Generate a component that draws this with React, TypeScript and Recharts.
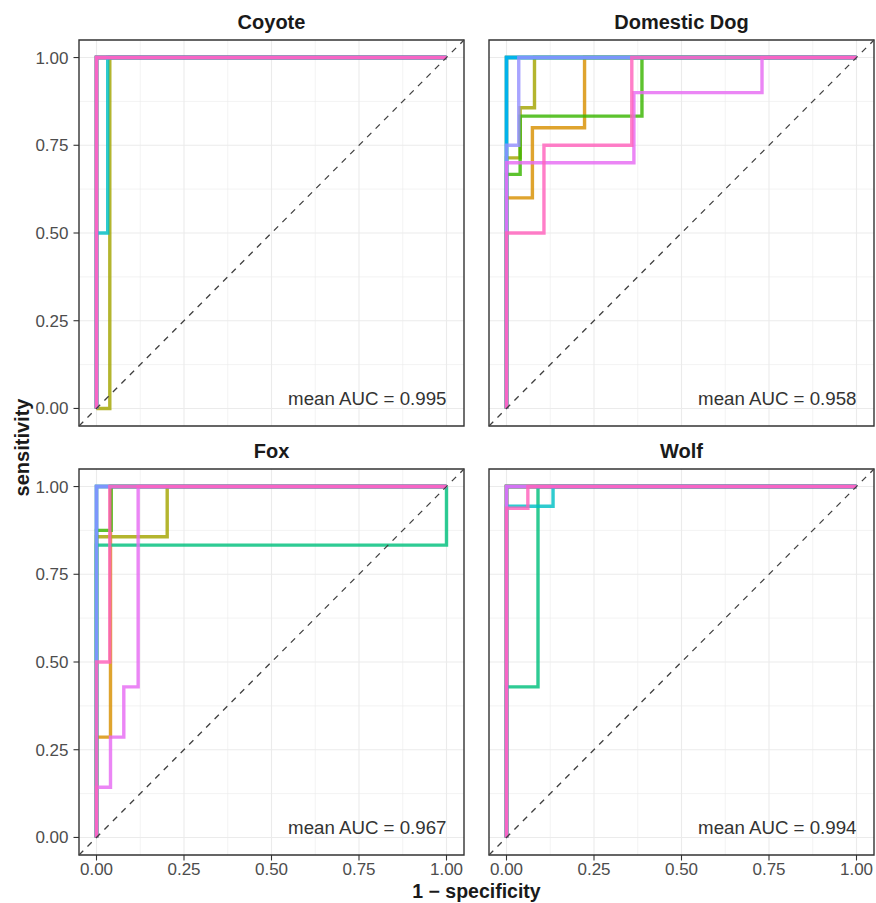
import React from 'react';
import { LineChart, Line, XAxis, YAxis, CartesianGrid, ReferenceLine, ReferenceArea } from 'recharts';

type Pt = { x: number; y: number };

// ggplot hue palette, one colour per cross-validation fold
const FOLD_COLORS = ['#F8766D', '#D89000', '#A3A500', '#39B600', '#00BF7D', '#00BFC4', '#00B0F6', '#9590FF', '#E76BF3', '#FF62BC'];
const MAJOR_TICKS = [0, 0.25, 0.5, 0.75, 1];
const MINOR_TICKS = [0.125, 0.375, 0.625, 0.875];
const PANEL_TITLES = ['Coyote', 'Domestic Dog', 'Fox', 'Wolf'];
const MEAN_AUC = [0.995, 0.958, 0.967, 0.994];

const PERFECT: Pt[] = [{ x: 0, y: 0 }, { x: 0, y: 1 }, { x: 1, y: 1 }];

// ROC step curves (1 - specificity, sensitivity) for the 10 folds of each class
const coyoteCurves: Pt[][] = [
  PERFECT,
  PERFECT,
  [{ x: 0, y: 0 }, { x: 0.038, y: 0 }, { x: 0.038, y: 1 }, { x: 1, y: 1 }],
  PERFECT,
  PERFECT,
  [{ x: 0, y: 0 }, { x: 0, y: 0.5 }, { x: 0.032, y: 0.5 }, { x: 0.032, y: 1 }, { x: 1, y: 1 }],
  PERFECT,
  PERFECT,
  PERFECT,
  PERFECT,
];

const dogCurves: Pt[][] = [
  PERFECT,
  [{ x: 0, y: 0 }, { x: 0, y: 0.6 }, { x: 0.074, y: 0.6 }, { x: 0.074, y: 0.8 }, { x: 0.223, y: 0.8 }, { x: 0.223, y: 1 }, { x: 1, y: 1 }],
  [{ x: 0, y: 0 }, { x: 0, y: 0.714 }, { x: 0.039, y: 0.714 }, { x: 0.039, y: 0.857 }, { x: 0.08, y: 0.857 }, { x: 0.08, y: 1 }, { x: 1, y: 1 }],
  [{ x: 0, y: 0 }, { x: 0, y: 0.667 }, { x: 0.039, y: 0.667 }, { x: 0.039, y: 0.833 }, { x: 0.387, y: 0.833 }, { x: 0.387, y: 1 }, { x: 1, y: 1 }],
  PERFECT,
  PERFECT,
  PERFECT,
  [{ x: 0, y: 0 }, { x: 0, y: 0.75 }, { x: 0.035, y: 0.75 }, { x: 0.035, y: 1 }, { x: 1, y: 1 }],
  [{ x: 0, y: 0 }, { x: 0, y: 0.7 }, { x: 0.364, y: 0.7 }, { x: 0.364, y: 0.9 }, { x: 0.73, y: 0.9 }, { x: 0.73, y: 1 }, { x: 1, y: 1 }],
  [{ x: 0, y: 0 }, { x: 0, y: 0.5 }, { x: 0.107, y: 0.5 }, { x: 0.107, y: 0.75 }, { x: 0.358, y: 0.75 }, { x: 0.358, y: 1 }, { x: 1, y: 1 }],
];

const foxCurves: Pt[][] = [
  PERFECT,
  [{ x: 0, y: 0 }, { x: 0, y: 0.286 }, { x: 0.04, y: 0.286 }, { x: 0.04, y: 1 }, { x: 1, y: 1 }],
  [{ x: 0, y: 0 }, { x: 0, y: 0.857 }, { x: 0.202, y: 0.857 }, { x: 0.202, y: 1 }, { x: 1, y: 1 }],
  [{ x: 0, y: 0 }, { x: 0, y: 0.875 }, { x: 0.042, y: 0.875 }, { x: 0.042, y: 1 }, { x: 1, y: 1 }],
  [{ x: 0, y: 0 }, { x: 0, y: 0.833 }, { x: 1, y: 0.833 }, { x: 1, y: 1 }],
  PERFECT,
  PERFECT,
  PERFECT,
  [{ x: 0, y: 0 }, { x: 0, y: 0.143 }, { x: 0.04, y: 0.143 }, { x: 0.04, y: 0.286 }, { x: 0.078, y: 0.286 }, { x: 0.078, y: 0.429 }, { x: 0.119, y: 0.429 }, { x: 0.119, y: 1 }, { x: 1, y: 1 }],
  [{ x: 0, y: 0 }, { x: 0, y: 0.5 }, { x: 0.038, y: 0.5 }, { x: 0.038, y: 1 }, { x: 1, y: 1 }],
];

const wolfCurves: Pt[][] = [
  PERFECT,
  PERFECT,
  PERFECT,
  PERFECT,
  [{ x: 0, y: 0 }, { x: 0, y: 0.429 }, { x: 0.09, y: 0.429 }, { x: 0.09, y: 1 }, { x: 1, y: 1 }],
  [{ x: 0, y: 0 }, { x: 0, y: 0.944 }, { x: 0.133, y: 0.944 }, { x: 0.133, y: 1 }, { x: 1, y: 1 }],
  PERFECT,
  PERFECT,
  PERFECT,
  [{ x: 0, y: 0 }, { x: 0, y: 0.938 }, { x: 0.061, y: 0.938 }, { x: 0.061, y: 1 }, { x: 1, y: 1 }],
];

const ALL_CURVES = [coyoteCurves, dogCurves, foxCurves, wolfCurves];

const FONT = "'Liberation Sans', Arial, Helvetica, sans-serif";
const DOMAIN: [number, number] = [-0.05, 1.05];
const PLOT_W = 385;
const PLOT_H = 386;
const COL_LEFT = [79, 489];
const ROW_TOP = [40, 469];

const fmt = (v: number) => v.toFixed(2);

function Panel({ idx }: { idx: number }) {
  const col = idx % 2;
  const row = Math.floor(idx / 2);
  const showY = col === 0;
  const showX = row === 1;
  const plotLeft = COL_LEFT[col];
  const plotTop = ROW_TOP[row];
  const chartLeft = showY ? 0 : 470;
  const chartTop = row === 0 ? 0 : 430;
  const yAxisW = showY ? 79 : 0;
  const mLeft = plotLeft - chartLeft - yAxisW;
  const mTop = plotTop - chartTop;
  const xAxisH = showX ? 26 : 0;
  const width = mLeft + yAxisW + PLOT_W + 4;
  const height = mTop + PLOT_H + xAxisH + 4;
  const curves = ALL_CURVES[idx];
  return (
    <div style={{ position: 'absolute', left: chartLeft, top: chartTop }}>
      <LineChart width={width} height={height} margin={{ top: mTop, left: mLeft, right: 4, bottom: 4 }}>
        <CartesianGrid stroke="#EBEBEB" strokeWidth={0.6} verticalValues={MINOR_TICKS} horizontalValues={MINOR_TICKS} />
        <CartesianGrid stroke="#EBEBEB" strokeWidth={1.1} verticalValues={MAJOR_TICKS} horizontalValues={MAJOR_TICKS} />
        <XAxis
          dataKey="x"
          type="number"
          domain={DOMAIN}
          ticks={MAJOR_TICKS}
          tickFormatter={fmt}
          allowDataOverflow
          hide={!showX}
          height={xAxisH}
          axisLine={false}
          tickLine={{ stroke: '#333333', strokeWidth: 1.1 }}
          tickSize={5.5}
          tickMargin={2.5}
          tick={{ fill: '#4D4D4D', fontSize: 17, fontFamily: FONT }}
        />
        <YAxis
          dataKey="y"
          type="number"
          domain={DOMAIN}
          ticks={MAJOR_TICKS}
          tickFormatter={fmt}
          allowDataOverflow
          hide={!showY}
          width={yAxisW}
          axisLine={false}
          tickLine={{ stroke: '#333333', strokeWidth: 1.1 }}
          tickSize={5.5}
          tickMargin={5}
          tick={{ fill: '#4D4D4D', fontSize: 17, fontFamily: FONT }}
        />
        {curves.map((pts, i) => (
          <Line
            key={i}
            data={pts}
            dataKey="y"
            type="linear"
            stroke={FOLD_COLORS[i]}
            strokeWidth={3.4}
            strokeOpacity={0.82}
            dot={false}
            activeDot={false}
            isAnimationActive={false}
          />
        ))}
        <ReferenceLine
          segment={[{ x: -0.05, y: -0.05 }, { x: 1.05, y: 1.05 }]}
          stroke="#404040"
          strokeWidth={1.3}
          strokeDasharray="6 6"
          ifOverflow="visible"
        />
        <ReferenceArea
          x1={-0.05}
          x2={1.05}
          y1={-0.05}
          y2={1.05}
          fill="none"
          fillOpacity={0}
          stroke="#333333"
          strokeWidth={1.4}
          ifOverflow="visible"
        />
      </LineChart>
    </div>
  );
}

export default function App() {
  const xToPx = (col: number, v: number) => COL_LEFT[col] + ((v - DOMAIN[0]) / (DOMAIN[1] - DOMAIN[0])) * PLOT_W;
  const yToPx = (row: number, v: number) => ROW_TOP[row] + PLOT_H - ((v - DOMAIN[0]) / (DOMAIN[1] - DOMAIN[0])) * PLOT_H;
  return (
    <div style={{ position: 'absolute', left: 0, top: 0, width: 876, height: 903, background: '#FFFFFF', overflow: 'hidden', fontFamily: FONT }}>
      {[0, 1, 2, 3].map((i) => (
        <Panel key={i} idx={i} />
      ))}
      <svg width={876} height={903} style={{ position: 'absolute', left: 0, top: 0, pointerEvents: 'none' }}>
        {PANEL_TITLES.map((t, i) => {
          const col = i % 2;
          const row = Math.floor(i / 2);
          return (
            <text key={t} x={COL_LEFT[col] + PLOT_W / 2} y={ROW_TOP[row] - 11} textAnchor="middle" fontFamily={FONT} fontWeight="bold" fontSize={20} fill="#1A1A1A">
              {t}
            </text>
          );
        })}
        {MEAN_AUC.map((a, i) => {
          const col = i % 2;
          const row = Math.floor(i / 2);
          return (
            <text key={i} x={xToPx(col, 1)} y={yToPx(row, 0) - 3} textAnchor="end" fontFamily={FONT} fontSize={18.7} fill="#333333">
              {`mean AUC = ${a.toFixed(3)}`}
            </text>
          );
        })}
        <text transform="translate(29,447.5) rotate(-90)" textAnchor="middle" fontFamily={FONT} fontWeight="bold" fontSize={20} fill="#1A1A1A">
          sensitivity
        </text>
        <text x={476.5} y={897.5} textAnchor="middle" fontFamily={FONT} fontWeight="bold" fontSize={19.5} fill="#1A1A1A">
          1 − specificity
        </text>
      </svg>
    </div>
  );
}
